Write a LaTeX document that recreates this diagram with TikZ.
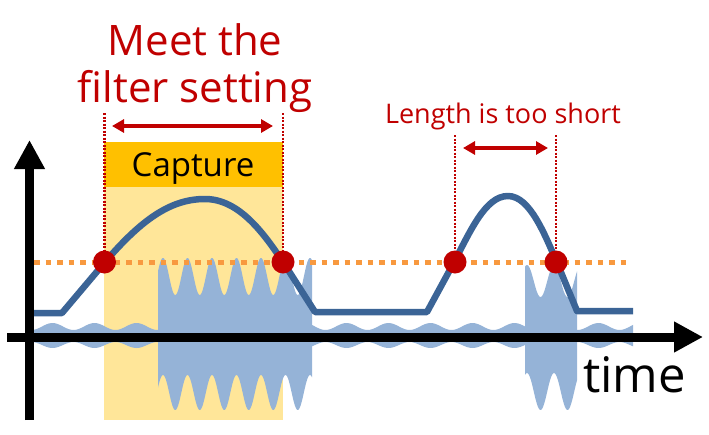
\documentclass[tikz,border=0pt]{standalone}
\usepackage{fontspec}
\setmainfont{Open Sans}
\usetikzlibrary{arrows.meta}
\definecolor{darkred}{HTML}{C00000}
\definecolor{capt}{HTML}{FFC000}
\definecolor{lightyel}{HTML}{FFE699}
\definecolor{burst}{HTML}{95B3D7}
\definecolor{sigblue}{HTML}{3B6496}
\definecolor{thresh}{HTML}{F8993F}
\tikzset{
  axisline/.style={line width=9pt, -{Triangle[length=29pt,width=29pt]}},
  sigline/.style={sigblue, line width=6.5pt, line join=round},
  thrline/.style={thresh, line width=5pt, dash pattern=on 5.5pt off 6pt},
  markline/.style={darkred, line width=2.5pt, dash pattern=on 2pt off 1.5pt},
  spanarrow/.style={darkred, line width=4pt, {Triangle[length=12pt,width=13pt]}-{Triangle[length=12pt,width=13pt]}},
  hitdot/.style={circle, fill=darkred, minimum size=23pt, inner sep=0pt},
  redtext/.style={text=darkred, inner sep=0pt},
}
\begin{document}
\begin{tikzpicture}[x=1pt, y=-1pt]
\useasboundingbox (0,0) rectangle (709,434);
% capture window
\fill[lightyel] (104,187) rectangle (283,420);
\node[fill=capt, minimum width=179pt, minimum height=45pt, inner sep=0pt, anchor=north west] (capbox) at (104,142) {};
\node[inner sep=0pt, anchor=base, font=\fontsize{33}{36}\selectfont] (captxt) at (193,176) {Capture};
% noise band
\fill[burst] plot[domain=34:633, samples=240] (\x, {326.5-3.5*sin((\x/42)*360)}) -- plot[domain=633:34, samples=240] (\x, {345+3*sin((\x/42)*360)}) -- cycle;
% bursts
\fill[burst] plot[domain=158:312, samples=200] (\x, {276.5-18.5*cos(((\x-163)/24.5)*360)}) -- plot[domain=312:158, samples=200] (\x, {392.5-17.5*cos(((\x-163)/24.5)*360)}) -- cycle;
\fill[burst] plot[domain=525:577, samples=80] (\x, {281-16*cos(((\x-527)/27)*360)}) -- plot[domain=577:525, samples=80] (\x, {391.5-18.5*cos(((\x-527)/27)*360)}) -- cycle;
% axes
\coordinate (ybot) at (29.5,420);
\coordinate (ytop) at (29.5,140);
\coordinate (xleft) at (7,337);
\coordinate (xright) at (703,337);
\draw[axisline] (ybot) -- (ytop);
\draw[axisline] (xleft) -- (xright);
\node[inner sep=0pt, anchor=base west, font=\fontsize{49}{52}\selectfont] (timetxt) at (583,392) {time};
% signal
\draw[sigline] (34,313) -- (62,313) -- (100,268) .. controls (140,220) and (170,199) .. (205,199) .. controls (240,199) and (265,235) .. (285,265) -- (315,312) -- (427,312) -- (452,266) .. controls (470,232) and (485,196) .. (508,196) .. controls (530,196) and (545,235) .. (558,265) -- (577,311) -- (633,311);
% threshold
\coordinate (thl) at (34,262);
\coordinate (thr) at (628,262);
\draw[thrline] (thl) -- (thr);
% hit points
\coordinate (t1) at (104.5,113);
\coordinate (t2) at (283,113);
\coordinate (t3) at (455,135);
\coordinate (t4) at (556,135);
\coordinate (p1) at (104.5,262);
\coordinate (p2) at (283,262);
\coordinate (p3) at (455,262);
\coordinate (p4) at (556,262);
\draw[markline] (t1) -- (p1);
\draw[markline] (t2) -- (p2);
\draw[markline] (t3) -- (p3);
\draw[markline] (t4) -- (p4);
\node[hitdot] (d1) at (p1) {};
\node[hitdot] (d2) at (p2) {};
\node[hitdot] (d3) at (p3) {};
\node[hitdot] (d4) at (p4) {};
% spans
\coordinate (a1l) at (112,126);
\coordinate (a1r) at (273,126);
\coordinate (a2l) at (463,148);
\coordinate (a2r) at (548,148);
\draw[spanarrow] (a1l) -- (a1r);
\draw[spanarrow] (a2l) -- (a2r);
% labels
\node[redtext, anchor=base, font=\fontsize{42}{46}\selectfont] (meet) at (195,55) {Meet the};
\node[redtext, anchor=base, font=\fontsize{42}{46}\selectfont] (filter) at (195,102) {filter setting};
\node[redtext, anchor=base, font=\fontsize{27}{30}\selectfont] (short) at (503,123) {Length is too short};
\end{tikzpicture}
\end{document}
